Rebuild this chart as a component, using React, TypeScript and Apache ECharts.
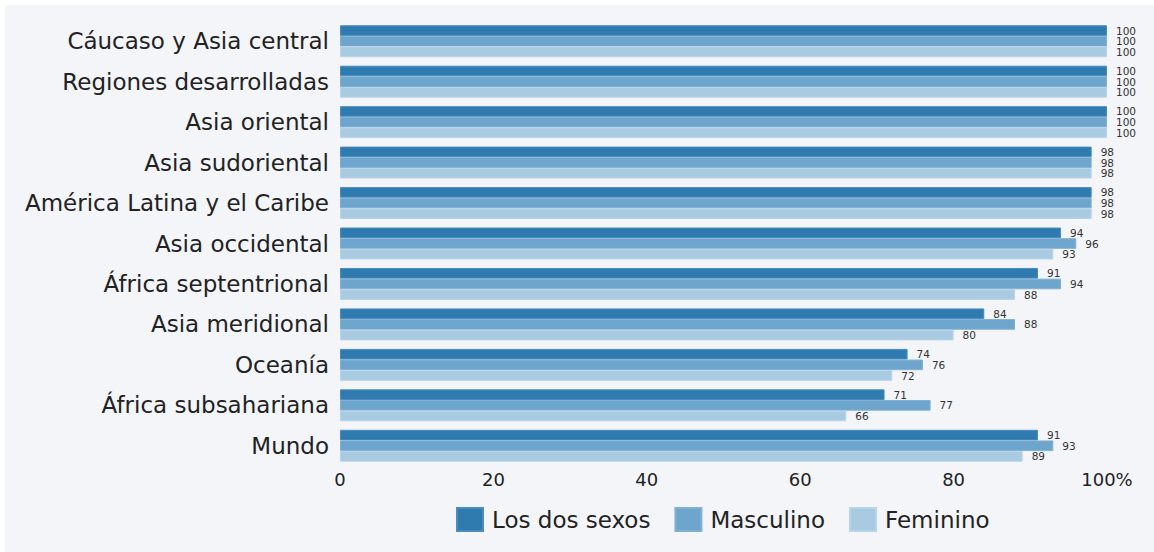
import React, { useEffect, useRef } from "react";
import * as echarts from "echarts";

const categories = [
  "Cáucaso y Asia central",
  "Regiones desarrolladas",
  "Asia oriental",
  "Asia sudoriental",
  "América Latina y el Caribe",
  "Asia occidental",
  "África septentrional",
  "Asia meridional",
  "Oceanía",
  "África subsahariana",
  "Mundo",
];
const losDosSexos = [100, 100, 100, 98, 98, 94, 91, 84, 74, 71, 91];
const masculino = [100, 100, 100, 98, 98, 96, 94, 88, 76, 77, 93];
const femenino = [100, 100, 100, 98, 98, 93, 88, 80, 72, 66, 89];
const seriesNames = ["Los dos sexos", "Masculino", "Feminino"];
const colors = ["#2f7bb0", "#6ea5cd", "#a9cbe2"];
const borders = ["#4a8cbd", "#80b0d3", "#b8d4e8"];

const FONT = "DejaVu Sans, Liberation Sans, sans-serif";

export default function App() {
  const ref = useRef<HTMLDivElement>(null);
  useEffect(() => {
    if (!ref.current) return;
    const chart = echarts.init(ref.current, undefined, { renderer: "svg" });
    const data = [losDosSexos, masculino, femenino];
    chart.setOption({
      animation: false,
      backgroundColor: "#ffffff",
      textStyle: { fontFamily: FONT },
      graphic: [
        {
          type: "rect",
          z: -10,
          silent: true,
          shape: { x: 5, y: 5, width: 1149, height: 547 },
          style: { fill: "#f3f5f9" },
        },
      ],
      grid: { left: 340, right: 47, top: 21, bottom: 86, containLabel: false },
      legend: {
        top: 502,
        left: 451,
        itemWidth: 26,
        itemHeight: 23,
        itemGap: 24,
        icon: "rect",
        textStyle: { fontSize: 23, color: "#222", fontFamily: FONT, padding: [0, 0, 0, 4] },
        data: seriesNames,
      },
      xAxis: {
        type: "value",
        min: 0,
        max: 100,
        interval: 20,
        axisLine: { show: false },
        axisTick: { show: false },
        splitLine: { show: false },
        axisLabel: {
          fontSize: 18,
          color: "#222",
          fontFamily: FONT,
          margin: 4,
          formatter: (v: number) => (v === 100 ? "100%" : String(v)),
        },
      },
      yAxis: {
        type: "category",
        data: categories,
        inverse: true,
        axisLine: { show: false },
        axisTick: { show: false },
        axisLabel: { fontSize: 23, color: "#222", fontFamily: FONT, margin: 11 },
      },
      series: seriesNames.map((name, i) => ({
        name,
        type: "bar",
        data: data[i],
        barGap: "0%",
        barCategoryGap: "21%",
        itemStyle: { color: colors[i], borderColor: borders[i], borderWidth: 1 },
        label: {
          show: true,
          position: "right",
          distance: 9,
          fontSize: 10.5,
          lineHeight: 10,
          fontFamily: FONT,
          color: "#333",
        },
      })),
    });
    return () => chart.dispose();
  }, []);
  return (
    <div
      ref={ref}
      style={{ position: "absolute", left: 0, top: 0, width: 1154, height: 552 }}
    />
  );
}
